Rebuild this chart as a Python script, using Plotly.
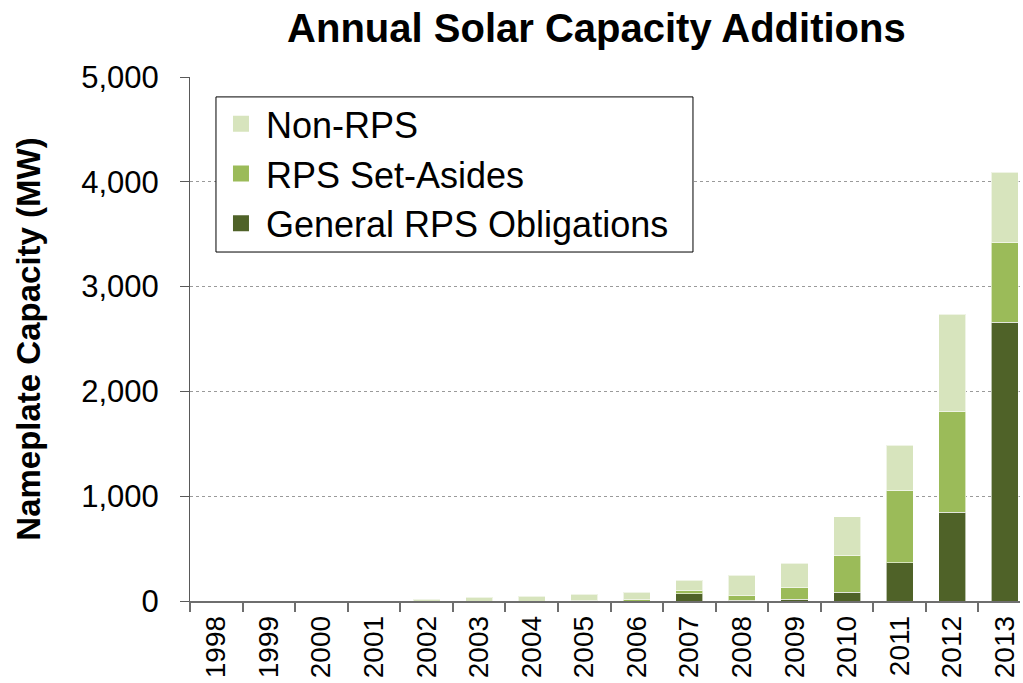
import plotly.graph_objects as go

years = [str(y) for y in range(1998, 2014)]
general_rps = [0, 0, 2, 2, 0, 0, 0, 0, 0, 67, 5, 16, 82, 365, 846, 2660]
rps_set_asides = [0, 0, 0, 0, 0, 0, 0, 2, 16, 35, 52, 117, 355, 692, 962, 761]
non_rps = [0, 1, 2, 2, 16, 35, 44, 61, 67, 95, 187, 229, 368, 427, 927, 672]

FONT = "Arial, 'Liberation Sans', sans-serif"

fig = go.Figure()
series = [
    ("General RPS Obligations", general_rps, "#4F6228", 3),
    ("RPS Set-Asides", rps_set_asides, "#9BBB59", 2),
    ("Non-RPS", non_rps, "#D7E4BD", 1),
]
for name, vals, col, rank in series:
    fig.add_trace(go.Bar(
        x=years, y=vals, name=name, showlegend=False,
        marker=dict(color=col, line=dict(color="rgba(255,255,255,0.6)", width=1)),
    ))
for name, vals, col, rank in series:
    fig.add_trace(go.Scatter(
        x=[None], y=[None], mode="markers", name=name, legendgroup=name, legendrank=rank,
        marker=dict(symbol="square", size=16, color=col), showlegend=True,
    ))

# legend frame
fig.add_shape(type="rect", xref="paper", yref="paper",
              x0=0.0313, x1=0.606, y0=0.666, y1=0.962,
              line=dict(color="black", width=1), fillcolor="white", layer="above")

fig.update_layout(
    barmode="stack",
    bargap=0.486,
    width=1023, height=683,
    margin=dict(l=190, r=3, t=77, b=82),
    paper_bgcolor="white", plot_bgcolor="white",
    font=dict(family=FONT, color="black", size=24),
    title=dict(text="<b>Annual Solar Capacity Additions</b>", x=0.583, xanchor="center",
               y=0.959, yanchor="middle", font=dict(size=40, family=FONT, color="black")),
    legend=dict(
        x=0.0313, y=0.968, xanchor="left", yanchor="top",
        traceorder="grouped", tracegroupgap=0,
        borderwidth=0, bgcolor="rgba(0,0,0,0)",
        font=dict(size=36, family=FONT, color="black"),
        itemwidth=40,
    ),
    showlegend=True,
)
fig.update_xaxes(
    type="category", range=[-0.5, 15.29], tickangle=-90, tickfont=dict(size=28, family=FONT),
    showline=True, linecolor="#6e6e6e", linewidth=1.5,
    ticks="outside", tickson="boundaries", ticklen=9, tickcolor="#6e6e6e", tickwidth=1.5,
    showgrid=False, automargin=False, ticklabelstandoff=2,
)
fig.update_yaxes(
    range=[0, 5000], dtick=1000, tickformat=",",
    tickfont=dict(size=31, family=FONT),
    showline=True, linecolor="#595959", linewidth=1,
    ticks="outside", ticklen=9, tickcolor="#595959", tickwidth=1,
    showgrid=True, gridcolor="#9a9a9a", griddash="dot", gridwidth=1,
    zeroline=False, automargin=False, ticklabelstandoff=15,
    title=dict(text="<b>Nameplate Capacity (MW)</b>", font=dict(size=33, family=FONT), standoff=30),
)

fig.write_html("out.html", config={"displayModeBar": False},
               post_script="document.body.style.margin='0';document.body.style.overflow='hidden';")
